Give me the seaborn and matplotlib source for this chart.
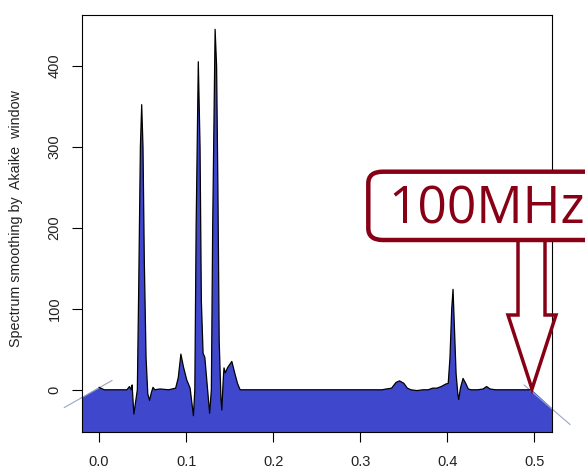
import matplotlib
matplotlib.use("Agg")
import matplotlib.pyplot as plt
import numpy as np
import pandas as pd
import seaborn as sns
from matplotlib.lines import Line2D
from matplotlib.patches import FancyBboxPatch

# --------------------------------------------------------------
# Data
# --------------------------------------------------------------
freq = [0.000, 0.006, 0.020, 0.032, 0.035, 0.037, 0.038, 0.040, 0.044, 0.0455,
        0.0475, 0.049, 0.0505, 0.052, 0.054, 0.056, 0.058, 0.060, 0.062, 0.064,
        0.070, 0.080, 0.088, 0.091, 0.094, 0.097, 0.1008, 0.1046, 0.1084, 0.110,
        0.1115, 0.114, 0.116, 0.1175, 0.1195, 0.1215, 0.127, 0.129, 0.1305, 0.1333,
        0.135, 0.1365, 0.138, 0.140, 0.141, 0.1425, 0.1435, 0.145, 0.148, 0.1525,
        0.156, 0.159, 0.162, 0.200, 0.250, 0.300, 0.325, 0.330, 0.336, 0.341,
        0.345, 0.350, 0.354, 0.358, 0.365, 0.372, 0.378, 0.383, 0.388, 0.393,
        0.398, 0.401, 0.403, 0.405, 0.4065, 0.408, 0.410, 0.412, 0.413, 0.415,
        0.418, 0.421, 0.424, 0.427, 0.435, 0.441, 0.445, 0.449, 0.455, 0.470,
        0.490, 0.497]
spec = [3, 0, 0, 0, 4, 0, 6, -30, 0, 120,
        300, 352, 300, 160, 40, -5, -13, -4, 3, 0,
        1, 0, 2, 15, 44, 28, 12, 2, -32, 0,
        200, 405, 300, 110, 45, 40, -29, 0, 200, 445,
        400, 250, 60, -10, -25, 10, 27, 21, 28, 35,
        20, 8, 0, 0, 0, 0, 0, 1, 2, 9,
        11, 8, 2, 0, -1, 0, 0, 2, 2, 4,
        7, 8, 40, 100, 124, 80, 20, -5, -12, 2,
        14, 8, 1, 0, 0, 1, 4, 1, 0, 0,
        0, 0]

# polygon corners that run off the plot region
left_corner = (-0.04, -22)
right_corner = (0.541, -43)
left_ray_end = (0.015, 11.5)
right_ray_start = (0.488, 6)

x_ticks = [0.0, 0.1, 0.2, 0.3, 0.4, 0.5]
y_ticks = [0, 100, 200, 300, 400]
y_label = "Spectrum smoothing by  Akaike  window"
callout = "100MHz"

# --------------------------------------------------------------
# Styling
# --------------------------------------------------------------
FILL = "#3F48CC"
DARKRED = "#880015"
FAINT = "#9aa6c6"
INK = "#222222"

sns.set_style("white")
plt.rcParams["font.family"] = ["Liberation Sans", "DejaVu Sans"]
plt.rcParams["axes.edgecolor"] = "black"
plt.rcParams["axes.linewidth"] = 0.8

W, H = 585, 467
fig = plt.figure(figsize=(W / 100, H / 100), dpi=100)
ax = fig.add_axes([82.3 / W, 1 - 432.3 / H, (551.7 - 82.3) / W, (432.3 - 15) / H])

df = pd.DataFrame({"freq": freq, "spec": spec})

# filled spectrum (polygon reaching below the plot)
poly_x = np.r_[left_corner[0], left_corner[0], df["freq"], right_corner[0], right_corner[0]]
poly_y = np.r_[-300, left_corner[1], df["spec"], right_corner[1], -300]
ax.fill(poly_x, poly_y, color=FILL, lw=0, zorder=1)

sns.lineplot(data=df, x="freq", y="spec", color="black", lw=0.9,
             sort=False, estimator=None, ax=ax, zorder=3)

# faint polygon edges leaking out of the box
ax.plot([left_corner[0], left_ray_end[0]], [left_corner[1], left_ray_end[1]],
        color=FAINT, lw=0.8, clip_on=False, zorder=2)
ax.plot([right_ray_start[0], right_corner[0]], [right_ray_start[1], right_corner[1]],
        color=FAINT, lw=0.8, clip_on=False, zorder=2)

ax.set_xlim(-0.0192, 0.5198)
ax.set_ylim(-52.5, 462.7)

ax.set_xticks(x_ticks)
ax.set_xticklabels([f"{t:.1f}" for t in x_ticks])
ax.set_yticks(y_ticks)
ax.set_yticklabels([str(t) for t in y_ticks], rotation=90, va="center")
ax.tick_params(axis="both", direction="out", length=7, width=0.8, color="black",
               labelsize=10.5, labelcolor=INK, bottom=True, left=True)
ax.tick_params(axis="x", pad=9)
ax.tick_params(axis="y", pad=8)

ax.set_xlabel("")
ax.set_ylabel(y_label, fontsize=10.3, color=INK)
ax.yaxis.set_label_coords(-0.1257, 0.513)

for s in ax.spines.values():
    s.set_visible(True)
    s.set_color("black")
    s.set_linewidth(0.8)

# --------------------------------------------------------------
# Hand-drawn style callout
# --------------------------------------------------------------
def fpos(x, y):
    return x / W, 1 - y / H

bx0, by0 = fpos(368.3, 240)
bx1, by1 = fpos(600, 171.7)
box = FancyBboxPatch((bx0, by0), bx1 - bx0, by1 - by0,
                     boxstyle="round,pad=0,rounding_size=0.025",
                     transform=fig.transFigure, facecolor="white",
                     edgecolor=DARKRED, lw=3.2, zorder=5, clip_on=False)
fig.add_artist(box)

tx, ty = fpos(388, 223.3)
fig.text(tx, ty, callout, fontsize=37, color=DARKRED, family="Open Sans",
         weight="normal", ha="left", va="baseline", zorder=6)

arrow_pts = [(518, 240), (518, 315), (508, 315), (532, 389),
             (556, 315), (545, 315), (545, 240)]
ax_, ay_ = zip(*[fpos(x, y) for x, y in arrow_pts])
fig.add_artist(Line2D(ax_, ay_, transform=fig.transFigure, color=DARKRED,
                      lw=2.5, solid_joinstyle="miter", zorder=5))

fig.savefig("out.png", dpi=100)
